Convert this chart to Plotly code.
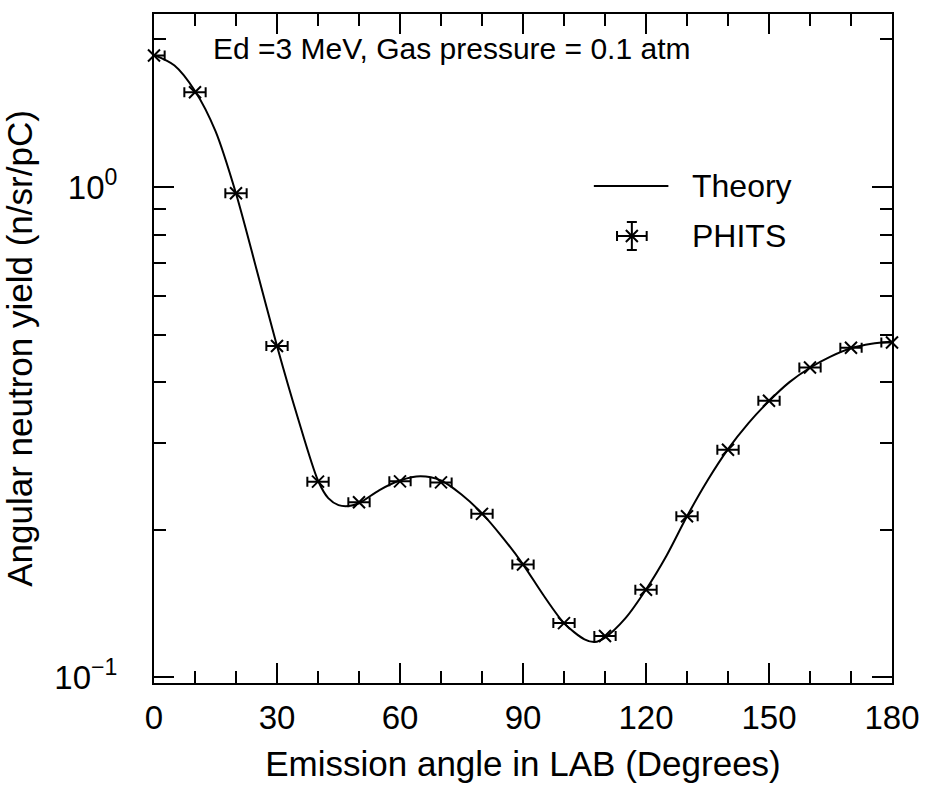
import plotly.graph_objects as go

# ---- data ----
theory_angle = [0, 5, 10, 15, 20, 25, 30, 35, 40, 42.5, 45, 47.5, 50, 55, 60, 65, 70, 75,
                80, 85, 90, 95, 100, 105, 107.5, 110, 115, 120, 125, 130, 135, 140, 145,
                150, 155, 160, 165, 170, 175, 180]
theory_yield = [1.86, 1.77, 1.57, 1.30, 0.97, 0.68, 0.474, 0.340, 0.252, 0.232, 0.2245,
                0.2235, 0.2265, 0.241, 0.252, 0.257, 0.252, 0.236, 0.216, 0.193, 0.170,
                0.147, 0.129, 0.1195, 0.118, 0.1205, 0.132, 0.151, 0.177, 0.213, 0.252,
                0.292, 0.330, 0.366, 0.400, 0.428, 0.451, 0.469, 0.479, 0.484]

phits_angle = [0, 10, 20, 30, 40, 50, 60, 70, 80, 90, 100, 110, 120, 130, 140, 150, 160, 170, 180]
phits_yield = [1.855, 1.561, 0.971, 0.474, 0.2507, 0.2275, 0.251, 0.2498, 0.2155, 0.1699,
               0.129, 0.1214, 0.1509, 0.2131, 0.2913, 0.3665, 0.4285, 0.470, 0.482]
phits_xerr = [2.6] * len(phits_angle)

x_ticks = [0, 30, 60, 90, 120, 150, 180]
x_minor = [10, 20, 40, 50, 70, 80, 100, 110, 130, 140, 160, 170]
y_ticks = [0.1, 1]
y_ticktext = ["10<sup>\u22121</sup>", "10<sup>0</sup>"]
y_minor = [0.2, 0.3, 0.4, 0.5, 0.6, 0.7, 0.8, 0.9, 2]

FONT = "Liberation Sans, Arial, sans-serif"

fig = go.Figure()

fig.add_trace(go.Scatter(
    x=theory_angle, y=theory_yield, mode="lines", name="Theory",
    line=dict(color="black", width=2, shape="spline", smoothing=0.8),
    showlegend=False, cliponaxis=True))

# error bars (clipped to the axes)
fig.add_trace(go.Scatter(
    x=phits_angle, y=phits_yield, mode="markers", name="PHITS",
    marker=dict(size=1, color="rgba(0,0,0,0)"),
    error_x=dict(type="data", array=phits_xerr, visible=True, color="black",
                 thickness=2, width=5),
    showlegend=False, cliponaxis=True))
# markers (not clipped)
fig.add_trace(go.Scatter(
    x=phits_angle, y=phits_yield, mode="markers", name="PHITS",
    marker=dict(symbol="x-thin", size=12, color="black",
                line=dict(width=2, color="black")),
    showlegend=False, cliponaxis=False))

# legend glyph on a hidden helper axis pair
fig.add_trace(go.Scatter(
    x=[0.6475], y=[0.6682], mode="markers", xaxis="x2", yaxis="y2",
    marker=dict(symbol="x-thin", size=12, color="black", line=dict(width=2, color="black")),
    error_x=dict(type="constant", value=0.0201, color="black", thickness=2, width=5),
    error_y=dict(type="constant", value=0.0209, color="black", thickness=2, width=5),
    showlegend=False, hoverinfo="skip"))

fig.add_shape(type="line", xref="paper", yref="paper", x0=0.596, x1=0.697,
              y0=0.7428, y1=0.7428, line=dict(color="black", width=2))
fig.add_annotation(xref="paper", yref="paper", x=0.7265, y=0.7428, text="Theory",
                   showarrow=False, xanchor="left", yanchor="middle",
                   font=dict(family=FONT, size=32, color="black"))
fig.add_annotation(xref="paper", yref="paper", x=0.7265, y=0.6682, text="PHITS",
                   showarrow=False, xanchor="left", yanchor="middle",
                   font=dict(family=FONT, size=32, color="black"))
fig.add_annotation(xref="paper", yref="paper", x=0.4035, y=0.949,
                   text="Ed =3 MeV, Gas pressure = 0.1 atm",
                   showarrow=False, xanchor="center", yanchor="middle",
                   font=dict(family=FONT, size=30, color="black"))

axis_common = dict(showline=True, linecolor="black", linewidth=2, mirror="ticks",
                   ticks="inside", tickcolor="black", tickwidth=2, ticklen=20,
                   showgrid=False, zeroline=False,
                   tickfont=dict(family=FONT, size=33, color="black"))

fig.update_layout(
    width=932, height=789,
    margin=dict(l=153, r=33, t=13, b=106),
    paper_bgcolor="white", plot_bgcolor="white",
    font=dict(family=FONT, color="black"),
    xaxis=dict(range=[0, 180], tickmode="array", tickvals=x_ticks,
               ticklabelstandoff=4,
               minor=dict(tickmode="array", tickvals=x_minor, ticks="inside",
                          ticklen=12, tickwidth=2, tickcolor="black"),
               title=dict(text="Emission angle in LAB (Degrees)",
                          font=dict(family=FONT, size=35, color="black"), standoff=17),
               **axis_common),
    yaxis=dict(type="log", range=[-1.0116, 0.353], tickmode="array", tickvals=y_ticks,
               ticktext=y_ticktext, ticklabelstandoff=28,
               minor=dict(tickmode="array", tickvals=y_minor, ticks="inside",
                          ticklen=12, tickwidth=2, tickcolor="black"),
               title=dict(text="Angular neutron yield (n/sr/pC)",
                          font=dict(family=FONT, size=35, color="black"), standoff=18),
               **axis_common),
    xaxis2=dict(range=[0, 1], overlaying="x", visible=False, domain=[0, 1]),
    yaxis2=dict(range=[0, 1], overlaying="y", visible=False, anchor="x2"),
)
fig.update_layout(xaxis2=dict(anchor="y2"))

fig.write_html("out.html")
